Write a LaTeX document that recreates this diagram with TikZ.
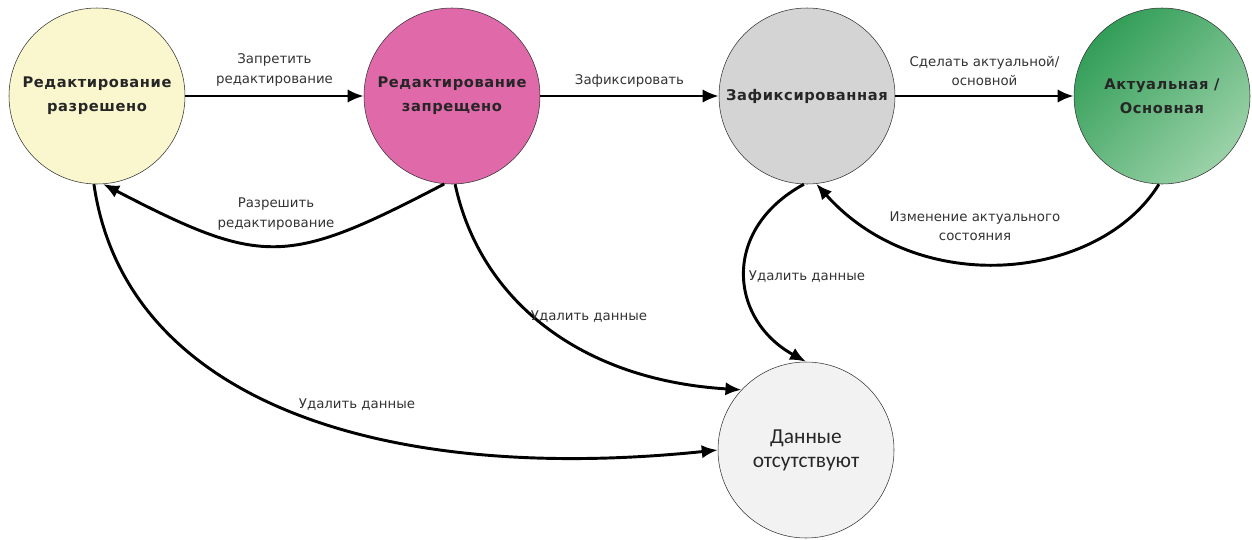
\documentclass[tikz,border=0pt]{standalone}
\usepackage{fontspec}
\setmainfont{DejaVu Sans}
\newfontfamily\statefont[LetterSpace = 4]{DejaVu Sans}
\newfontfamily\emptyfont{Carlito}
\usetikzlibrary{arrows.meta}

\definecolor{editon}{RGB}{250,246,205}
\definecolor{editoff}{RGB}{224,105,170}
\definecolor{fixgray}{RGB}{212,212,212}
\definecolor{maindark}{RGB}{50,158,88}
\definecolor{mainlight}{RGB}{155,210,168}
\definecolor{nodata}{RGB}{242,242,242}

\begin{document}
\begin{tikzpicture}[> = {Latex[length = 12pt, width = 10pt]}, x = 0.75pt, y = -0.75pt]

	% Definitions

	\def\D{132pt}		% Diameter of a state
	\def\W{2.2pt}		% Width of a transition

	\tikzset{
		state/.style = {circle, draw = black!80, minimum size = \D, inner sep = 0pt, align = center, text = black!85, font = \statefont\bfseries\fontsize{11}{18}\selectfont},
		move/.style = {->, line width = \W},
		note/.style = {align = center, text = black!80, font = \fontsize{10}{14.5}\selectfont}
	}

	\useasboundingbox (0, 0) rectangle (1252, 539);

	% States

	\node [state, fill = editon] (edit) at (97, 96) {Редактирование\\разрешено};
	\node [state, fill = editoff] (lock) at (452, 96) {Редактирование\\запрещено};
	\node [state, fill = fixgray] (fixed) at (807, 96) {Зафиксированная};
	\node [state, top color = maindark, bottom color = mainlight, shading angle = 45] (main) at (1162, 96) {Актуальная /\\Основная};
	\node [state, fill = nodata, font = \emptyfont\fontsize{16}{18}\selectfont] (empty) at (806, 450) {Данные\\отсутствуют};

	% Straight transitions

	\draw [move] (edit) -- node (forbid) [note, above = 3pt] {Запретить\\редактирование} (lock);
	\draw [move] (lock) -- node (fix) [note, above = 2pt] {Зафиксировать} (fixed);
	\draw [move] (fixed) -- node (promote) [note, above = 3pt] {Сделать актуальной/\\основной} (main);

	% Curved transitions

	\draw [move] (lock.265) .. controls (287, 266) and (263, 267) .. (edit.274);
	\draw [move] (edit.268) .. controls (125, 400) and (380, 485) .. (empty.180);
	\draw [move] (lock.272) .. controls (480, 300) and (580, 380) .. (empty.137);
	\draw [move] (fixed.268) .. controls (720, 230) and (730, 320) .. (empty.90);
	\draw [move] (main.268) .. controls (1100, 280) and (920, 300) .. (fixed.276);

	% Labels of curved transitions

	\node (allow) [note] at (276, 214) {Разрешить\\редактирование};
	\node (dellock) [note] at (589, 317) {Удалить данные};
	\node (deledit) [note] at (357, 405) {Удалить данные};
	\node (delfix) [note] at (807, 277) {Удалить данные};
	\node (change) [note] at (975, 226) {Изменение актуального\\состояния};

\end{tikzpicture}
\end{document}
